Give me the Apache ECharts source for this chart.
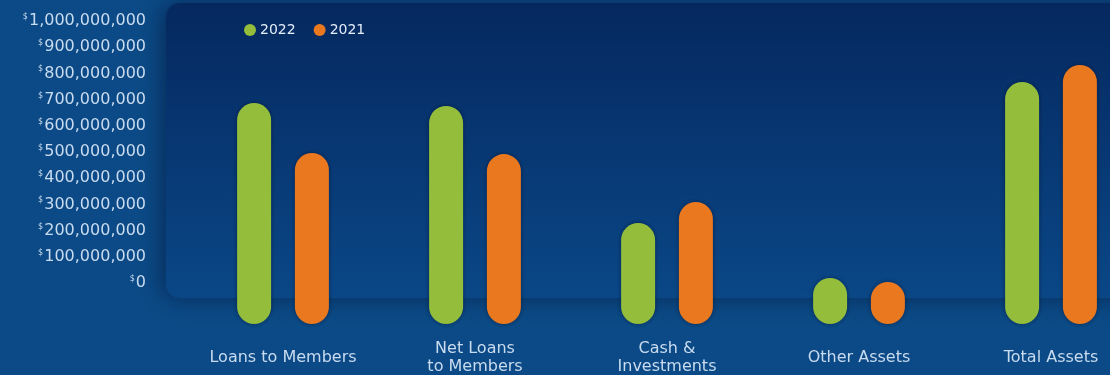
<!DOCTYPE html>
<html>
<head>
<meta charset="utf-8">
<script src="https://cdn.jsdelivr.net/npm/echarts@6/dist/echarts.min.js"></script>
<style>
  html, body { margin: 0; padding: 0; background: #0b4a86; }
  #chart { width: 1110px; height: 375px; }
</style>
</head>
<body>
<div id="chart"></div>
<script>
const categories = ['Loans to Members', 'Net Loans\nto Members', 'Cash &\nInvestments', 'Other Assets', 'Total Assets'];
const values2022 = [687000000, 676000000, 229000000, 19000000, 767000000];
const values2021 = [496000000, 492000000, 309000000, 4000000, 832000000];
const yMax = 1000000000;
const yStep = 100000000;

const textColor = '#c9dbef';
const font = 'DejaVu Sans';
// the capsules hang below the $0 line, so the bar axis starts a bit under zero
const barFloor = -156500000;

const chart = echarts.init(document.getElementById('chart'));

chart.setOption({
  backgroundColor: '#0b4a86',
  textStyle: {fontFamily: font},
  graphic: [{
    type: 'rect',
    z: -10,
    shape: {x: 166, y: 3, width: 1000, height: 295, r: 14},
    style: {
      fill: new echarts.graphic.LinearGradient(0, 0, 0, 1, [
        {offset: 0, color: '#05285f'},
        {offset: 1, color: '#0a4787'}
      ]),
      shadowBlur: 24,
      shadowOffsetX: -4,
      shadowColor: 'rgba(2, 16, 50, 0.55)'
    }
  }],
  legend: {
    left: 239,
    top: 18,
    itemWidth: 12,
    itemHeight: 12,
    itemGap: 18,
    icon: 'circle',
    textStyle: {color: '#e4eefa', fontSize: 14, fontFamily: font, padding: [0, 0, 0, -1]},
    data: ['2022', '2021']
  },
  // grid is wider than the canvas: the last category is cut at the right edge
  grid: [
    {left: 187, width: 960, top: 21, bottom: 92, outerBoundsMode: 'none', containLabel: false},
    {left: 187, width: 960, top: 21, bottom: 51, outerBoundsMode: 'none', containLabel: false}
  ],
  xAxis: [
    {gridIndex: 0, type: 'category', data: categories, show: false},
    {
      gridIndex: 1,
      type: 'category',
      data: categories,
      axisLine: {show: false},
      axisTick: {show: false},
      axisLabel: {
        color: textColor,
        fontSize: 16,
        lineHeight: 18,
        verticalAlign: 'middle',
        margin: 34,
        interval: 0
      }
    }
  ],
  yAxis: [
    {
      gridIndex: 0,
      type: 'value',
      min: 0,
      max: yMax,
      interval: yStep,
      splitLine: {show: false},
      axisLine: {show: false},
      axisTick: {show: false},
      axisLabel: {
        margin: 41,
        formatter(val) {
          return '{s|$}{n|' + val.toLocaleString('en-US') + '}';
        },
        rich: {
          s: {fontSize: 8, color: textColor, verticalAlign: 'top', padding: [0, 1, 6, 0]},
          n: {fontSize: 16, color: textColor}
        }
      }
    },
    {
      gridIndex: 1,
      type: 'value',
      min: barFloor,
      max: yMax,
      startValue: barFloor,
      show: false,
      splitLine: {show: false}
    }
  ],
  series: [
    {
      name: '2022',
      type: 'bar',
      xAxisIndex: 1,
      yAxisIndex: 1,
      data: values2022,
      barWidth: 34,
      barGap: '70%',
      itemStyle: {
        color: '#93bd3b',
        borderRadius: 17,
        shadowBlur: 5,
        shadowColor: 'rgba(0, 10, 40, 0.5)'
      }
    },
    {
      name: '2021',
      type: 'bar',
      xAxisIndex: 1,
      yAxisIndex: 1,
      data: values2021,
      barWidth: 34,
      itemStyle: {
        color: '#e9781f',
        borderRadius: 17,
        shadowBlur: 5,
        shadowColor: 'rgba(0, 10, 40, 0.5)'
      }
    }
  ]
});
</script>
</body>
</html>
